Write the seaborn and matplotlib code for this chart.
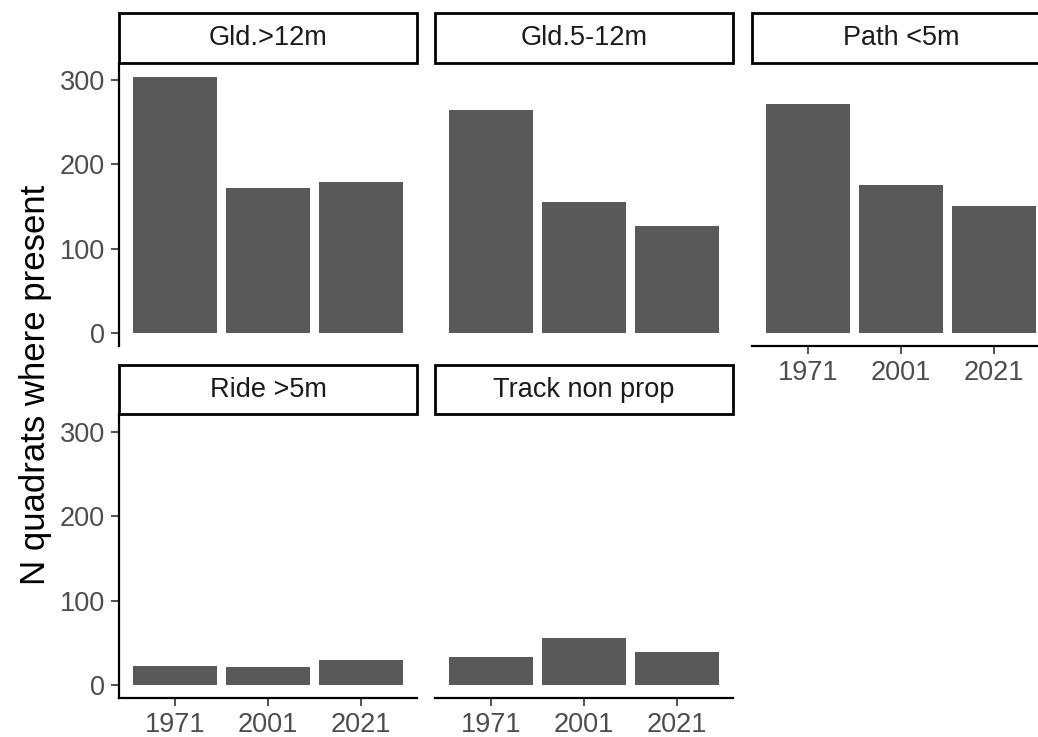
import pandas as pd
import matplotlib.pyplot as plt
import seaborn as sns
from matplotlib.patches import Rectangle

# data
types = ["Gld.>12m", "Gld.5-12m", "Path <5m", "Ride >5m", "Track non prop"]
years = ["1971", "2001", "2021"]
gld_12 = [303, 172, 179]
gld_5_12 = [264, 155, 127]
path_5 = [272, 175, 151]
ride_5 = [23, 22, 30]
track_np = [33, 56, 40]

counts = [gld_12, gld_5_12, path_5, ride_5, track_np]
df = pd.DataFrame({
    "type": [t for t in types for _ in years],
    "year": years * len(types),
    "n": [v for c in counts for v in c],
})

sns.set_style("white")
plt.rcParams['font.family'] = ['Liberation Sans', 'DejaVu Sans']

W, H = 1038, 737
fig = plt.figure(figsize=(W / 100, H / 100), dpi=100)

col_x = [119, 435, 752]
pw = 298
rows = [(62.7, 345.7), (414.3, 698.3)]
strip_h = 49.5
has_xaxis = {"Path <5m", "Ride >5m", "Track non prop"}

for i, t in enumerate(types):
    r, c = divmod(i, 3)
    top, bot = rows[r]
    ph = bot - top
    ax = fig.add_axes([col_x[c] / W, 1 - bot / H, pw / W, ph / H])
    sub = df[df["type"] == t]
    sns.barplot(data=sub, x="year", y="n", color="#595959", saturation=1,
                width=0.9, errorbar=None, edgecolor="none", ax=ax)
    ax.set_xlim(-0.6, 2.6)
    ax.set_ylim(-15.3, 320.5)
    ax.set_xlabel("")
    ax.set_ylabel("")
    for s in ax.spines.values():
        s.set_visible(False)
        s.set_linewidth(1.6)
        s.set_color("black")
    ax.tick_params(colors="#333333", labelcolor="#4D4D4D", labelsize=19.5,
                   length=6, width=1.2, pad=4, left=True, bottom=True)
    if c == 0:
        ax.spines["left"].set_visible(True)
        ax.set_yticks([0, 100, 200, 300])
    else:
        ax.set_yticks([])
    if t in has_xaxis:
        ax.spines["bottom"].set_visible(True)
    else:
        ax.tick_params(axis="x", bottom=False, labelbottom=False)
    # facet strip
    ax.add_patch(Rectangle((0, 1), 1, strip_h / ph, transform=ax.transAxes,
                           facecolor="white", edgecolor="black", lw=2,
                           clip_on=False))
    ax.text(0.5, 1 + strip_h / ph / 2, t, transform=ax.transAxes,
            ha="center", va="center", fontsize=19.5, color="#1A1A1A")

fig.text(36 / W, 1 - 385 / H, "N quadrats where present", rotation=90,
         ha="center", va="center", fontsize=25, color="black")

fig.savefig("out.png", dpi=100)
